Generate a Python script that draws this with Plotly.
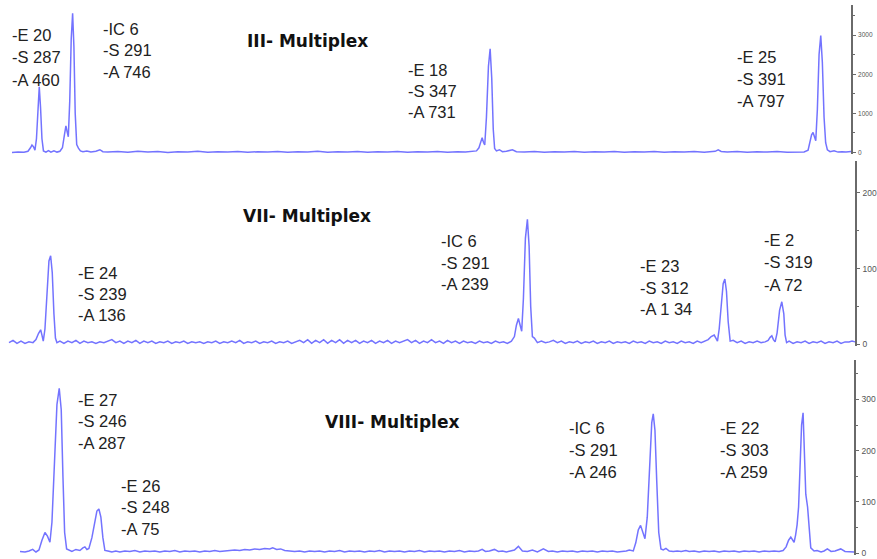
import plotly.graph_objects as go

W, H = 877, 559

# ---------------- DATA ----------------
# Panel III (signal in RFU, x = scan position)
p3_x = [12,18,24,28,30.5,32,33.5,35,36.5,38,39.3,40.6,42,43.5,46,48.5,51,54,57,60,62.5,64.5,66,67.3,68.4,69.8,71.3,72.7,74,75.3,76.8,78.5,80.5,83,87,91,96,100,103,108,
        118,128,138,148,158,168,178,188,198,208,218,228,238,248,258,268,278,288,298,308,318,328,338,348,358,368,378,388,398,408,418,428,438,448,458,466,472,477,
        479.5,481.5,482.7,484,485.3,487,489,490.7,492.3,493.8,495.2,497,500,503,507,513,517,
        525,535,545,555,565,575,585,595,605,615,625,635,645,655,665,675,685,695,705,712,716,719,722,728,738,748,758,768,778,788,798,805,809,
        811,812.5,814,815.5,816.7,818.3,820,821.7,823.3,825,826.6,828.3,831,835,839,843,847,852]
p3_y = [0,15,5,30,120,190,150,60,350,1200,1680,1150,350,40,10,50,10,40,10,30,120,450,680,520,400,1300,2900,3560,2700,1000,200,110,40,20,40,10,30,70,20,10,
        25,5,30,10,25,0,20,10,30,5,20,10,25,5,20,10,25,5,20,10,30,5,20,10,25,5,20,10,25,5,20,10,25,5,20,10,20,40,
        120,320,380,260,190,900,2200,2650,1900,600,100,40,70,20,30,70,20,
        10,25,5,20,10,25,5,20,10,25,5,20,10,25,5,20,10,25,5,20,30,65,25,10,25,5,20,10,25,5,20,15,60,
        250,450,510,380,300,1100,2500,2990,2300,900,250,70,20,45,10,20,10,25]

# Panel VII
p7_pts = [(9,2),(13,5),(17,1),(21,4),(25,1),(29,3),(33,2),(36,6),(38.5,14),(40.7,19),(42,12),(43.3,4),(45,20),(47,70),(49,110),(50.7,117),(52.3,95),(54,40),(55.5,8),(57,2),
          (60,4),(64,1),(68,4),(72,2),(76,5),(80,1),(84,4),(88,2),(92,3),(96,1),(100,3),(104,2),(108,4),(112,6),(116,2),(120,4),(124,1),(128,4),(132,2),(136,5),(140,1),(144,4),
          (148,2),(152,4),(156,1),(160,3),(164,2),(168,4),(172,1),(176,3),(180,2),(184,4),(188,1),(192,3),(196,2),(200,3),(204,1),(208,3),(212,2),(216,4),(220,1),(224,3),
          (228,2),(232,4),(236,2),(240,5),(244,1),(248,3),(252,2),(256,4),(260,1),(264,3),(268,2),(272,4),(276,1),(280,3),(284,2),(288,4),(292,1),(296,3),(300,5),(304,2),
          (308,6),(312,1),(316,5),(320,2),(324,6),(328,1),(332,5),(336,2),(340,6),(344,1),(348,5),(352,2),(356,5),(360,1),(364,4),(368,2),(372,5),(376,1),(380,4),(384,2),
          (388,5),(392,1),(396,4),(400,2),(404,4),(408,6),(412,2),(416,5),(420,1),(424,4),(428,2),(432,6),(436,2),(440,4),(444,1),(448,5),(452,2),(456,4),(460,1),(464,4),
          (468,2),(472,3),(476,1),(480,4),(484,2),(488,3),(492,1),(496,4),(500,2),(504,3),(508,1),(512,4),(515,10),(517,25),(519,34),(520.7,25),(522.3,17),(524,60),(526,140),
          (528,165),(529.7,130),(531.3,50),(533,10),(535,8),(538,2),(542,4),(546,2),(550,3),(554,5),(558,2),(562,4),(566,1),(570,3),(574,2),(578,4),(582,1),(586,3),(590,2),
          (594,4),(598,1),(602,3),(606,2),(610,4),(614,1),(618,3),(622,2),(626,3),(630,1),(634,4),(638,2),(642,3),(646,1),(650,4),(654,2),(658,3),(662,1),(666,4),(670,2),
          (674,3),(678,1),(682,4),(686,2),(690,3),(694,1),(698,4),(702,2),(706,4),(709,6),(712,10),(715,12),(716.7,8),(718.3,4),(720,20),(722.5,60),(724,80),(725.7,86),
          (727.3,70),(729,30),(731,4),(734,5),(738,2),(742,4),(746,1),(750,3),(754,2),(758,4),(762,2),(766,3),(769,5),(771,9),(772.7,11),(774.3,6),(776,3),(778,15),(780.5,45),
          (782.7,56),(784.7,40),(786,12),(787.5,2),(790,4),(794,1),(798,3),(802,2),(806,4),(810,1),(814,3),(818,2),(822,4),(826,1),(830,3),(834,2),(838,4),(842,1),(846,3),
          (850,3),(853,4),(856,3)]
p7_x = [p[0] for p in p7_pts]
p7_y = [p[1] for p in p7_pts]

# Panel VIII
p8_pts = [(20,3),(25,2),(29,4),(32.7,7),(36,2),(39,6),(42,25),(45,40),(47.5,33),(50,21),(52,60),(54.5,180),(57,290),(59.3,322),(61.3,280),(63,150),(64.7,40),(66.7,8),
          (69,6),(72,3),(76,7),(80,5),(83,10),(85,12),(87,7),(89,9),(92,30),(95,65),(97,82),(99,86),(101,70),(103,30),(105,5),(108,4),(112,2),(116,4),(120,2),(125,4),
          (130,3),(135,5),(140,2),(145,4),(150,3),(155,4),(160,2),(165,4),(170,3),(175,5),(180,2),(185,4),(190,3),(195,4),(200,2),(205,4),(210,3),(215,5),(220,3),(225,4),
          (230,5),(235,6),(240,5),(245,7),(250,6),(255,8),(260,7),(265,9),(270,8),(273,10),(277,7),(281,8),(285,5),(290,4),(295,3),(300,4),(305,2),(310,4),(315,3),(320,4),
          (325,2),(330,4),(335,3),(340,5),(345,2),(350,4),(355,3),(360,4),(365,2),(370,4),(375,3),(380,5),(385,2),(390,4),(395,3),(400,4),(405,2),(410,4),(415,3),(420,5),
          (425,2),(430,4),(435,3),(440,4),(445,2),(450,4),(455,3),(460,5),(465,2),(470,4),(475,3),(479,4),(482.7,7),(486,3),(490,4),(495,7),(499,3),(503,4),(507,2),(511,4),
          (515,6),(519,13),(523,4),(528,3),(533,6),(538,2),(544,8),(549,3),(553,4),(558,2),(563,4),(568,3),(573,4),(578,2),(583,4),(588,3),(593,4),(598,2),(603,4),(608,3),
          (613,4),(618,2),(623,3),(627,4),(630,6),(634,4),(636.5,20),(639,45),(641.3,54),(643.5,40),(645.7,28),(648,70),(650.5,180),(652.5,255),(654,272),(655.7,240),
          (657.5,140),(659.5,40),(661.7,8),(664,6),(666.7,9),(670,4),(674,3),(678,4),(682,3),(686.7,5),(690,3),(695,4),(700,2),(705,4),(710,3),(715,4),(720,2),(725,4),
          (730,3),(735,4),(740,2),(745,4),(750,3),(755,4),(760,2),(765,4),(770,3),(775,4),(780,3),(784,5),(787,12),(789.5,25),(791.7,31),(793.5,25),(795,21),(796.5,35),
          (798,55),(799.5,90),(801,170),(802.5,250),(804,274),(805.3,200),(806.7,115),(808.5,90),(810,45),(811.7,10),(815,4),(818,5),(822,2),(825,4),(828.3,8),(832,3),
          (836,4),(841.7,8),(846,3),(850,3),(855,2)]
p8_x = [p[0] for p in p8_pts]
p8_y = [p[1] for p in p8_pts]

panel_titles = ["III- Multiplex", "VII- Multiplex", "VIII- Multiplex"]

p3_ticks = [0, 1000, 2000, 3000]
p7_ticks = [0, 100, 200]
p8_ticks = [0, 100, 200, 300]

peak_labels_III = [["-E 20", "-S 287", "-A 460"], ["-IC 6", "-S 291", "-A 746"],
                   ["-E 18", "-S 347", "-A 731"], ["-E 25", "-S 391", "-A 797"]]
peak_labels_VII = [["-E 24", "-S 239", "-A 136"], ["-IC 6", "-S 291", "-A 239"],
                   ["-E 23", "-S 312", "-A 1 34"], ["-E 2", "-S 319", "-A 72"]]
peak_labels_VIII = [["-E 27", "-S 246", "-A 287"], ["-E 26", "-S 248", "-A 75"],
                    ["-IC 6", "-S 291", "-A 246"], ["-E 22", "-S 303", "-A 259"]]

# ---------------- LAYOUT GEOMETRY ----------------
LINE = "rgba(90,90,255,0.85)"
AX = "#6a6a6a"

# (axis x px, zero px, px per unit, ymin, ymax)
geo = [
    (852, 153.3, 118.0 / 3000, -40, 3760),
    (856, 346.0, 0.76, -3, 242),
    (855, 556.0, 0.5145, -4, 377),
]

fig = go.Figure()
series = [(p3_x, p3_y), (p7_x, p7_y), (p8_x, p8_y)]
ticks = [p3_ticks, p7_ticks, p8_ticks]
tfont = [6.5, 8.5, 8.5]
minor = [500, 50, 50]

for i, ((xs, ys), (axx, z, s, lo, hi)) in enumerate(zip(series, geo)):
    n = "" if i == 0 else str(i + 1)
    fig.add_trace(go.Scatter(x=xs, y=ys, mode="lines", xaxis="x" + n, yaxis="y" + n,
                             line=dict(color=LINE, width=1.5), showlegend=False,
                             hoverinfo="skip"))
    top_px = z - hi * s
    bot_px = z - lo * s
    fig.layout["xaxis" + n] = dict(domain=[0, axx / W], range=[0, axx], visible=False,
                                   anchor="y" + n)
    fig.layout["yaxis" + n] = dict(domain=[1 - bot_px / H, 1 - top_px / H], range=[lo, hi],
                                   anchor="x" + n, side="right", showgrid=False, zeroline=False,
                                   showline=True, linecolor=AX, linewidth=1.5,
                                   ticks="outside", ticklen=3, tickcolor=AX, tickwidth=1,
                                   tickvals=ticks[i], ticktext=[str(t) for t in ticks[i]],
                                   ticklabelstandoff=1,
                                   tickfont=dict(family="Liberation Sans", size=tfont[i], color="#555"),
                                   minor=dict(dtick=minor[i], tick0=0, ticks="outside", ticklen=2,
                                              tickcolor=AX, showgrid=False))

ann = []
# titles: (left px, center px)
title_pos = [(245, 41), (241, 217), (323, 424)]
for t, (px, py) in zip(panel_titles, title_pos):
    ann.append(dict(text=t, x=px / W, y=1 - py / H, xref="paper", yref="paper",
                    xanchor="left", yanchor="middle", showarrow=False,
                    font=dict(family="DejaVu Sans", size=17, color="#111", weight="bold")))

label_pos = [
    [(10, 35, 22.5), (101, 29, 21.5), (406, 70, 21.5), (736, 57, 22.3)],
    [(76, 274, 21.4), (440, 242.7, 21.5), (639, 267.3, 21.8), (763, 241, 22.6)],
    [(76, 401.7, 21.7), (119, 488.3, 21.7), (568, 430, 22.2), (719, 430, 22.2)],
]
for labels, poss in zip([peak_labels_III, peak_labels_VII, peak_labels_VIII], label_pos):
    for lines, (px, py, dy) in zip(labels, poss):
        for k, line in enumerate(lines):
            ann.append(dict(text=line, x=px / W, y=1 - (py + k * dy) / H, xref="paper", yref="paper",
                            xanchor="left", yanchor="middle", showarrow=False,
                            font=dict(family="Liberation Sans", size=16.5, color="#222")))

fig.update_layout(width=W, height=H, margin=dict(l=0, r=0, t=0, b=0),
                  paper_bgcolor="white", plot_bgcolor="white", annotations=ann,
                  showlegend=False)

fig.write_html("out.html", config={"displayModeBar": False},
               post_script="document.body.style.margin='0';document.body.style.padding='0';")
